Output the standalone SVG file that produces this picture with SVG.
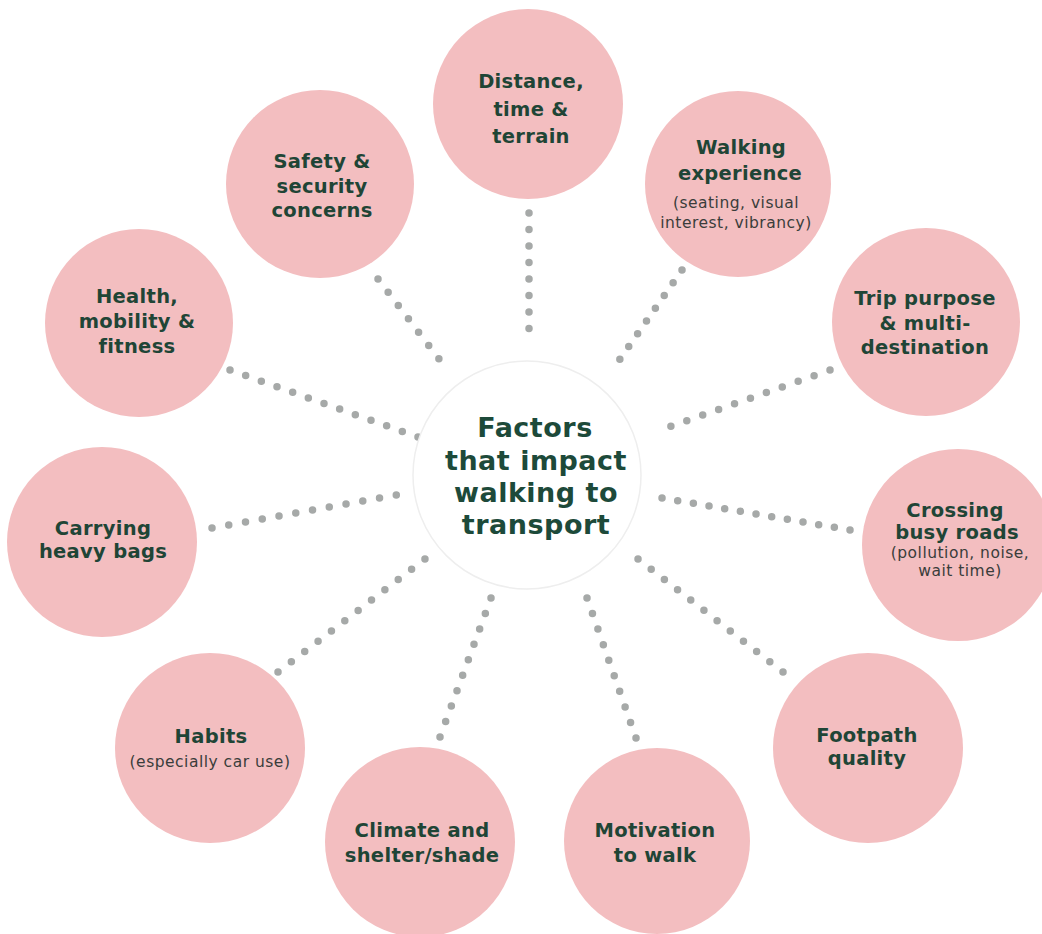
<svg xmlns="http://www.w3.org/2000/svg" width="1042" height="934" viewBox="0 0 1042 934">
<style>
.bg{fill:#ffffff}
.node{fill:#f3bec0}
.hub{fill:#ffffff;stroke:#eeeeee;stroke-width:1.5}
.t{font-family:"DejaVu Sans",sans-serif;font-weight:bold;font-size:19.5px;letter-spacing:0.3px;fill:#1f4536;text-anchor:middle}
.s{font-family:"DejaVu Sans",sans-serif;font-size:15.5px;letter-spacing:0.5px;fill:#3a3d3b;text-anchor:middle}
.h{font-family:"DejaVu Sans",sans-serif;font-weight:bold;font-size:27px;letter-spacing:0.5px;fill:#1d4a3a;text-anchor:middle}
.d{stroke:#a6a9a8;stroke-width:7.5;stroke-linecap:round;fill:none}
</style>
<rect class="bg" x="0" y="0" width="1042" height="934"/>
<g id="connectors">
<line class="d" x1="529" y1="213" x2="529" y2="345" stroke-dasharray="0 16.5"/>
<line class="d" x1="682" y1="270" x2="611" y2="372" stroke-dasharray="0 15.54"/>
<line class="d" x1="830" y1="370" x2="655" y2="432" stroke-dasharray="0 16.88"/>
<line class="d" x1="850" y1="530" x2="662" y2="498" stroke-dasharray="0 15.89"/>
<line class="d" x1="783" y1="672" x2="638" y2="559" stroke-dasharray="0 16.71"/>
<line class="d" x1="636" y1="738" x2="587" y2="598" stroke-dasharray="0 16.48"/>
<line class="d" x1="440" y1="737" x2="491" y2="598" stroke-dasharray="0 16.45"/>
<line class="d" x1="278" y1="672" x2="425" y2="559" stroke-dasharray="0 16.85"/>
<line class="d" x1="212" y1="528" x2="413" y2="492" stroke-dasharray="0 17.02"/>
<line class="d" x1="230" y1="370" x2="418" y2="437" stroke-dasharray="0 16.63"/>
<line class="d" x1="378" y1="279" x2="449" y2="372" stroke-dasharray="0 16.72"/>
</g>
<g id="hub">
<circle class="hub" cx="527" cy="475" r="114"/>
<text class="h" x="535" y="437">Factors</text>
<text class="h" x="536" y="470">that impact</text>
<text class="h" x="536" y="502">walking to</text>
<text class="h" x="536" y="534">transport</text>
</g>
<g id="n-distance">
<circle class="node" cx="528" cy="104" r="95"/>
<text class="t" x="531" y="88">Distance,</text>
<text class="t" x="531" y="116">time &amp;</text>
<text class="t" x="531" y="143">terrain</text>
</g>
<g id="n-walking">
<circle class="node" cx="738" cy="184" r="93"/>
<text class="t" x="741" y="154">Walking</text>
<text class="t" x="740" y="180">experience</text>
<text class="s" x="736" y="208">(seating, visual</text>
<text class="s" x="736" y="228">interest, vibrancy)</text>
</g>
<g id="n-trip">
<circle class="node" cx="926" cy="322" r="94"/>
<text class="t" x="925" y="305">Trip purpose</text>
<text class="t" x="925" y="330">&amp; multi-</text>
<text class="t" x="925" y="354">destination</text>
</g>
<g id="n-crossing">
<circle class="node" cx="958" cy="545" r="96"/>
<text class="t" x="955" y="517">Crossing</text>
<text class="t" x="957" y="539">busy roads</text>
<text class="s" x="960" y="558">(pollution, noise,</text>
<text class="s" x="960" y="576">wait time)</text>
</g>
<g id="n-footpath">
<circle class="node" cx="868" cy="748" r="95"/>
<text class="t" x="867" y="742">Footpath</text>
<text class="t" x="867" y="765">quality</text>
</g>
<g id="n-motivation">
<circle class="node" cx="657" cy="841" r="93"/>
<text class="t" x="655" y="837">Motivation</text>
<text class="t" x="655" y="862">to walk</text>
</g>
<g id="n-climate">
<circle class="node" cx="420" cy="842" r="95"/>
<text class="t" x="422" y="837">Climate and</text>
<text class="t" x="422" y="862">shelter/shade</text>
</g>
<g id="n-habits">
<circle class="node" cx="210" cy="748" r="95"/>
<text class="t" x="211" y="743">Habits</text>
<text class="s" x="210" y="767">(especially car use)</text>
</g>
<g id="n-carrying">
<circle class="node" cx="102" cy="542" r="95"/>
<text class="t" x="103" y="535">Carrying</text>
<text class="t" x="103" y="558">heavy bags</text>
</g>
<g id="n-health">
<circle class="node" cx="139" cy="323" r="94"/>
<text class="t" x="137" y="303">Health,</text>
<text class="t" x="137" y="328">mobility &amp;</text>
<text class="t" x="137" y="353">fitness</text>
</g>
<g id="n-safety">
<circle class="node" cx="320" cy="184" r="94"/>
<text class="t" x="322" y="168">Safety &amp;</text>
<text class="t" x="322" y="193">security</text>
<text class="t" x="322" y="217">concerns</text>
</g>
</svg>
